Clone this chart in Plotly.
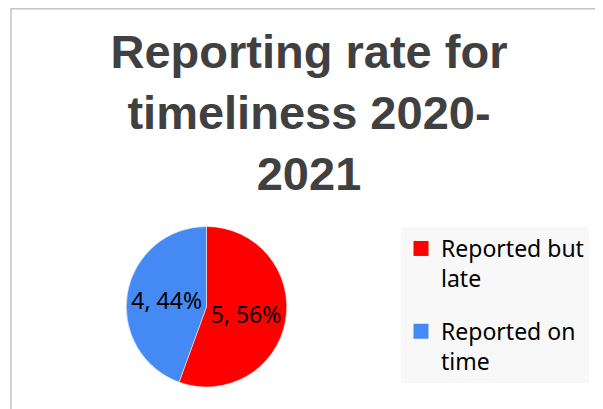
import plotly.graph_objects as go

# slice data
labels = ["Reported but late", "Reported on time"]
legend_names = ["Reported but<br>late", "Reported on<br>time"]
values = [5, 4]
colors = ["#ff0000", "#4589f5"]

title_text = "Reporting rate for<br>timeliness 2020-<br>2021"

W, H = 603, 409
OFF = 8  # page body margin added by the browser

fig = go.Figure()
fig.add_trace(go.Pie(
    labels=labels,
    values=values,
    marker=dict(colors=colors, line=dict(color="white", width=0.5)),
    sort=False,
    direction="clockwise",
    rotation=0,
    texttemplate="%{value}, %{percent:.0%}",
    textposition="inside",
    insidetextorientation="horizontal",
    textfont=dict(family="Noto Sans", size=23, color="black"),
    domain=dict(x=[(126 - OFF) / W, (287 - OFF) / W],
                y=[1 - (387 - OFF) / H, 1 - (226.5 - OFF) / H]),
    showlegend=False,
    hoverinfo="label+value+percent",
))

# legend entries, one group each so the gap between them can be set
for name, col in zip(legend_names, colors):
    fig.add_trace(go.Scatter(
        x=[None], y=[None], mode="markers", name=name,
        legendgroup=name,
        marker=dict(symbol="square", size=15, color=col),
    ))

fig.update_layout(
    width=W,
    height=H,
    margin=dict(l=0, r=0, t=0, b=0, autoexpand=False),
    paper_bgcolor="white",
    plot_bgcolor="white",
    xaxis=dict(visible=False),
    yaxis=dict(visible=False),
    title=dict(
        text=title_text,
        font=dict(family="Liberation Sans", size=47, color="#404040", weight="bold"),
        x=(309 - OFF) / W,
        xanchor="center",
        y=1 - 60 / H,
        yanchor="top",
        yref="container",
    ),
    legend=dict(
        x=(401 - OFF) / W,
        xanchor="left",
        y=1 - (227 - OFF) / H,
        yanchor="top",
        bgcolor="#f8f8f8",
        font=dict(family="Noto Sans", size=23, color="black"),
        valign="top",
        traceorder="grouped",
        tracegroupgap=20,
    ),
    # chart border (left and top edges visible)
    shapes=[
        dict(type="path", xref="paper", yref="paper",
             path=f"M {(11 - OFF) / W},0 L {(11 - OFF) / W},{1 - 0.8 / H} L 1,{1 - 0.8 / H}",
             line=dict(color="#c4c4c4", width=1.5)),
    ],
)

fig.write_html("out.html")
